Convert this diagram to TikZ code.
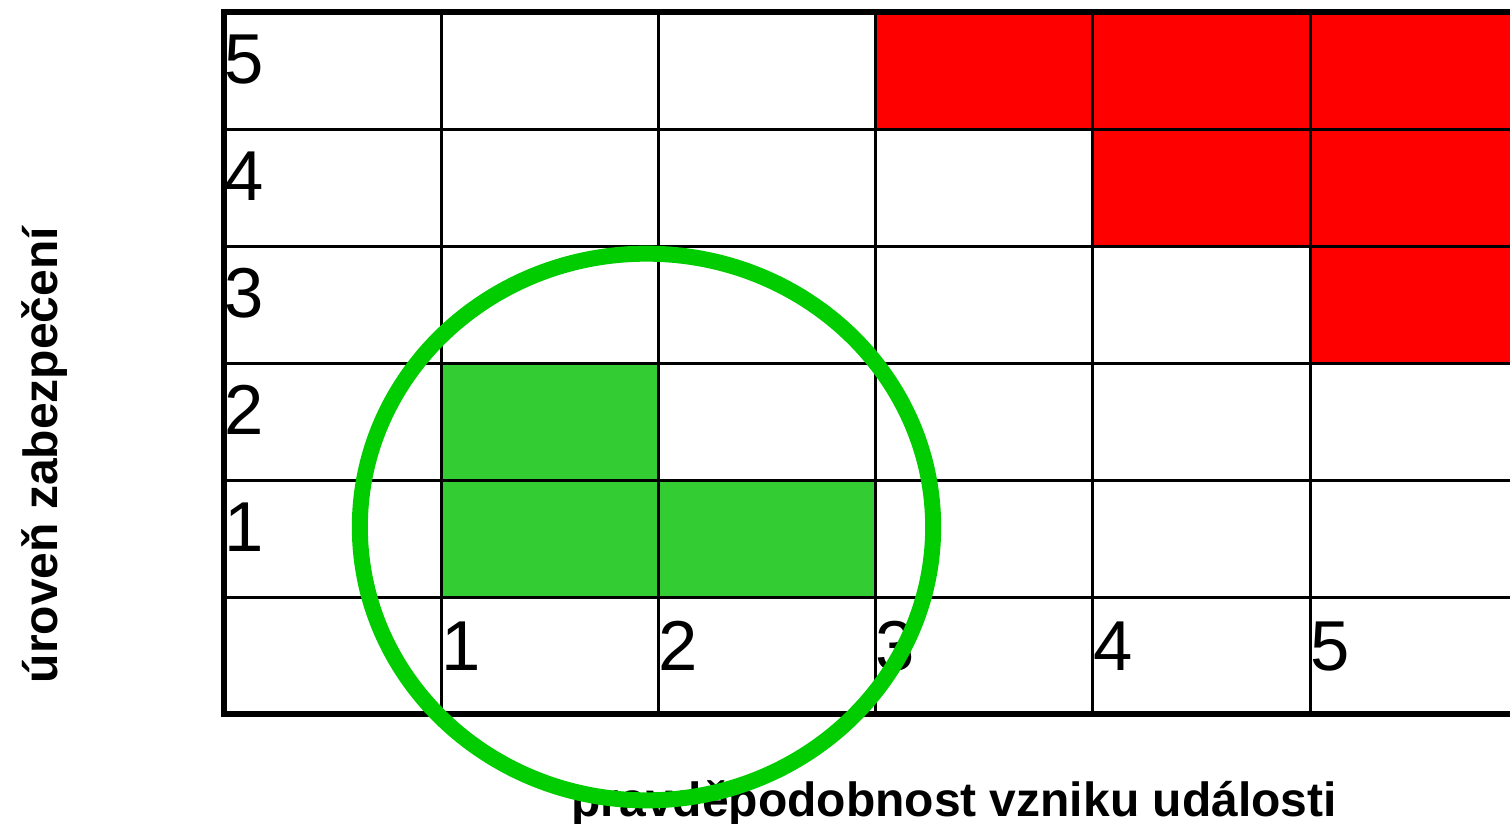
\documentclass[tikz,border=0pt]{standalone}
\usepackage{fontspec}
\setmainfont{Liberation Sans}
\definecolor{riskred}{HTML}{FF0000}
\definecolor{safegreen}{HTML}{33CC33}
\definecolor{ringgreen}{HTML}{00CC00}

\begin{document}
\begin{tikzpicture}[
        x=0.75pt, y=-0.75pt,
        digit/.style = {
            inner sep=0pt,
            anchor=base west,
            font=\fontsize{53}{60}\selectfont},
        axis label/.style = {
            inner sep=0pt,
            anchor=base,
            font=\fontsize{36}{42}\selectfont\bfseries},
        thin grid/.style = {line width=2.25pt},
        frame/.style = {line width=4.5pt}
    ]
    \clip (0,0) rectangle (1510,824);
    % red and green cells (probability/level)
    \foreach \p/\u in {3/5,4/5,5/5,4/4,5/4,5/3}
        \fill[riskred] ({224+\p*217.2},{12+(5-\u)*117}) rectangle ++(217.2,117);
    \foreach \p/\u in {1/2,1/1,2/1}
        \fill[safegreen] ({224+\p*217.2},{12+(5-\u)*117}) rectangle ++(217.2,117);
    % grid
    \foreach \i in {1,...,5} {
        \draw[thin grid] ({224+\i*217.2},12) -- ({224+\i*217.2},714);
        \draw[thin grid] (224,{12+\i*117}) -- (1527,{12+\i*117});
    }
    \draw[frame] (1527,12) -- (224,12) -- (224,714) -- (1527,714);
    % numbers
    \foreach \u in {1,...,5}
        \node[digit] (u\u) at (224,{12+(5-\u)*117+71.5}) {\u};
    \foreach \p in {1,...,5}
        \node[digit] (p\p) at ({224+\p*217.2},670) {\p};
    % axis labels
    \node[axis label] (prob) at (954,816) {pravděpodobnost vzniku události};
    \node[axis label, rotate=90] (level) at (57,455) {úroveň zabezpečení};
    % ring
    \draw[ringgreen, line width=12pt] (646.5,527) ellipse [x radius=215pt, y radius=205pt];
\end{tikzpicture}
\end{document}
